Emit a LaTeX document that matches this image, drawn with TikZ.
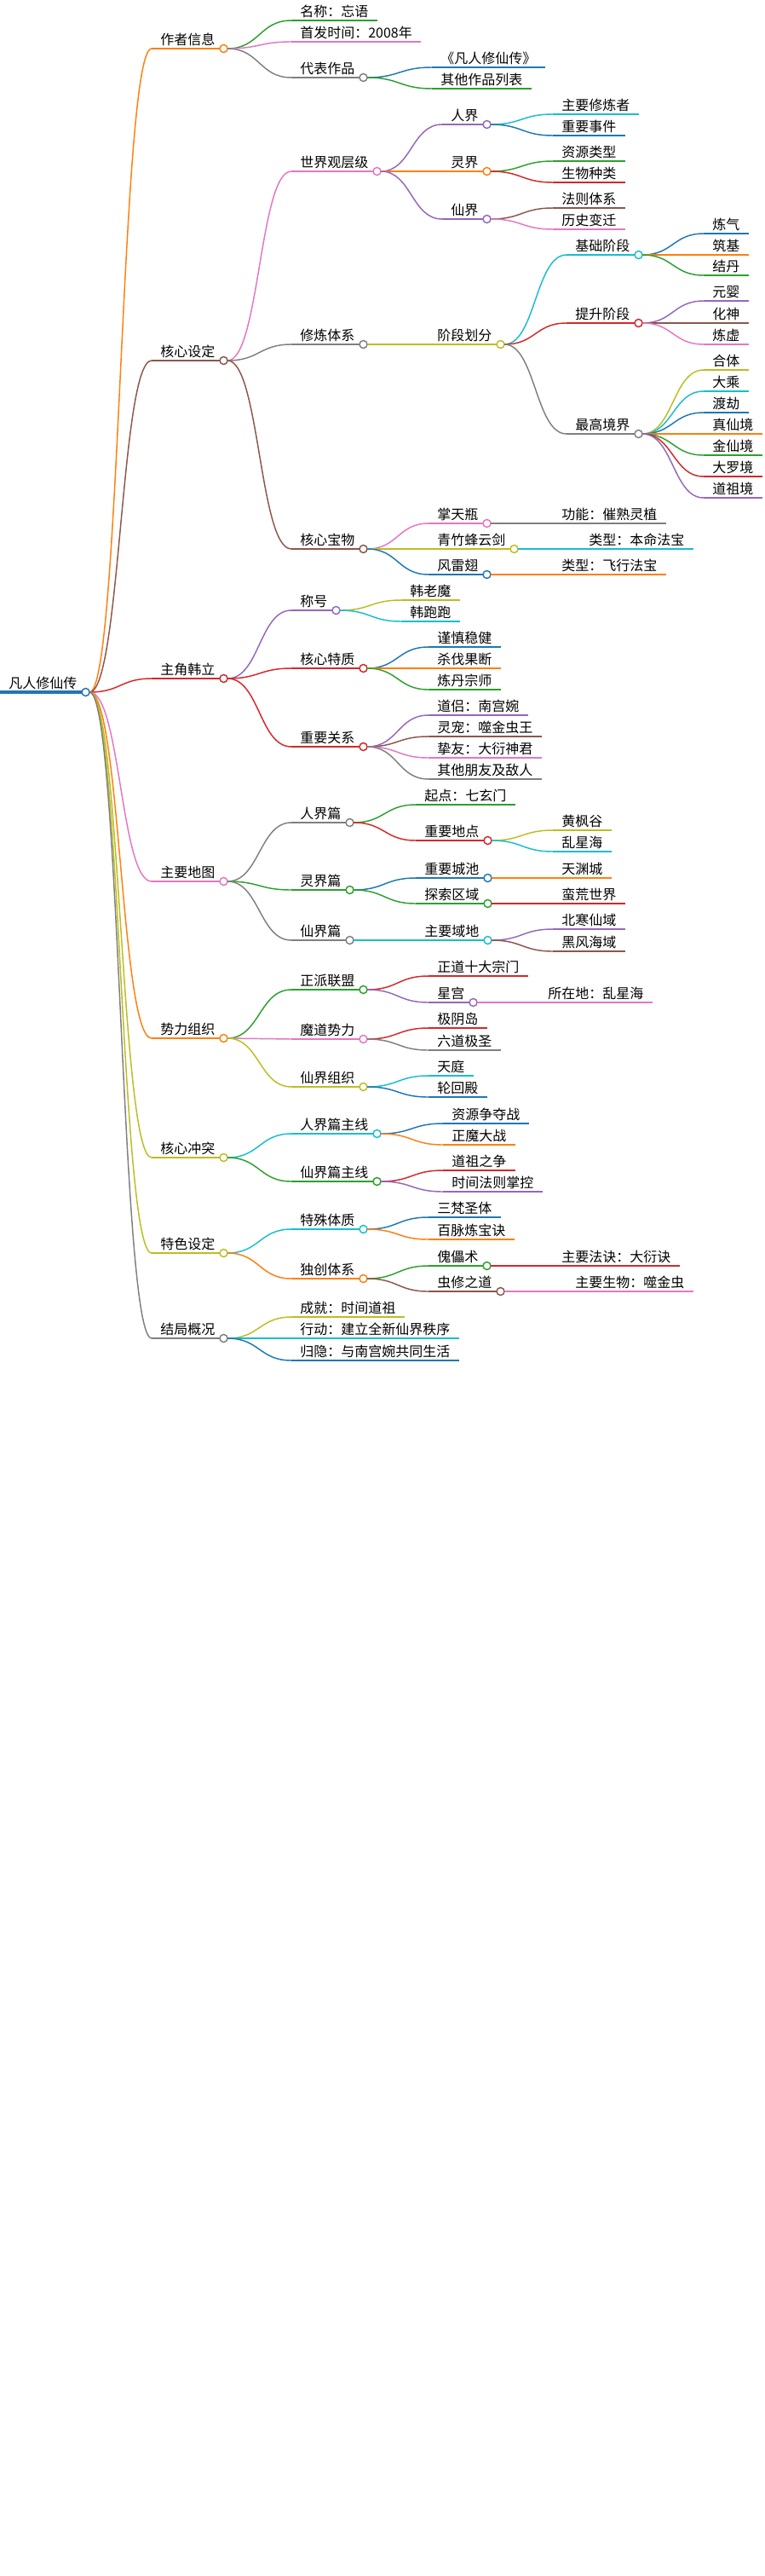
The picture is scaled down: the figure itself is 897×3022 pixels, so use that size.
\documentclass[tikz,border=0pt]{standalone}
\usepackage{fontspec}
\newfontfamily\cjk{Noto Sans CJK SC}
\usetikzlibrary{calc}
\definecolor{mblue}{HTML}{1F77B4}
\definecolor{morange}{HTML}{FF7F0E}
\definecolor{mgreen}{HTML}{2CA02C}
\definecolor{mred}{HTML}{D62728}
\definecolor{mpurple}{HTML}{9467BD}
\definecolor{mbrown}{HTML}{8C564B}
\definecolor{mpink}{HTML}{E377C2}
\definecolor{mgray}{HTML}{7F7F7F}
\definecolor{molive}{HTML}{BCBD22}
\definecolor{mcyan}{HTML}{17BECF}
\tikzset{
  mm/.style={anchor=south west,inner xsep=7.5pt,inner ysep=2pt,
    font=\cjk\fontsize{12}{14}\selectfont},
  link/.style={line width=1.1pt}
}
% leaf: name, parent, colour, x, y, text
\newcommand{\lf}[6]{
\node[mm] (#1) at (#4,#5) {#6};
\draw[#3,link] (#1.south west) -- (#1.south east);
\draw[#3,link] let \p1=($(#2.south east)+(3.4pt,0)$), \p2=(#1.south west) in
  (\p1) .. controls (\x1/2+\x2/2,\y1) and (\x1/2+\x2/2,\y2) .. (\p2);}
% branch: same, with a circle at its end
\newcommand{\br}[6]{
\lf{#1}{#2}{#3}{#4}{#5}{#6}
\draw[#3,link,fill=white] (#1.south east) circle (3.4pt);}

\begin{document}
\begin{tikzpicture}[x=0.75pt,y=-0.75pt]
\useasboundingbox (0,0) rectangle (897,3022);
\node[mm] (root) at (0,812) {凡人修仙传};
\draw[mblue,line width=2.4pt] (root.south west) -- (root.south east);

% 作者信息
\br{auth}{root}{morange}{178}{57}{作者信息}
\lf{auth-a}{auth}{mgreen}{342}{24}{名称：忘语}
\lf{auth-b}{auth}{mpink}{342}{49}{首发时间：2008年}
\br{auth-c}{auth}{mgray}{342}{91}{代表作品}
\lf{auth-c1}{auth-c}{mblue}{507}{79}{《凡人修仙传》}
\lf{auth-c2}{auth-c}{mgreen}{507}{104}{其他作品列表}

% 核心设定
\br{core}{root}{mbrown}{178}{423}{核心设定}
\br{world}{core}{mpink}{342}{201}{世界观层级}
\br{w-ren}{world}{mpurple}{519}{146}{人界}
\lf{w-ren1}{w-ren}{mcyan}{649}{134}{主要修炼者}
\lf{w-ren2}{w-ren}{mblue}{649}{159}{重要事件}
\br{w-ling}{world}{morange}{519}{201}{灵界}
\lf{w-ling1}{w-ling}{mgreen}{649}{189}{资源类型}
\lf{w-ling2}{w-ling}{mred}{649}{214}{生物种类}
\br{w-xian}{world}{mpurple}{519}{257}{仙界}
\lf{w-xian1}{w-xian}{mbrown}{649}{244}{法则体系}
\lf{w-xian2}{w-xian}{mpink}{649}{269}{历史变迁}
\br{cult}{core}{mgray}{342}{404}{修炼体系}
\br{stage}{cult}{molive}{503}{404}{阶段划分}
\br{st-a}{stage}{mcyan}{665}{299}{基础阶段}
\lf{st-a1}{st-a}{mblue}{826}{274}{炼气}
\lf{st-a2}{st-a}{morange}{826}{299}{筑基}
\lf{st-a3}{st-a}{mgreen}{826}{323}{结丹}
\br{st-b}{stage}{mred}{665}{379}{提升阶段}
\lf{st-b1}{st-b}{mpurple}{826}{353}{元婴}
\lf{st-b2}{st-b}{mbrown}{826}{379}{化神}
\lf{st-b3}{st-b}{mpink}{826}{404}{炼虚}
\br{st-c}{stage}{mgray}{665}{509}{最高境界}
\lf{st-c1}{st-c}{molive}{826}{434}{合体}
\lf{st-c2}{st-c}{mcyan}{826}{459}{大乘}
\lf{st-c3}{st-c}{mblue}{826}{484}{渡劫}
\lf{st-c4}{st-c}{morange}{826}{509}{真仙境}
\lf{st-c5}{st-c}{mgreen}{826}{534}{金仙境}
\lf{st-c6}{st-c}{mred}{826}{559}{大罗境}
\lf{st-c7}{st-c}{mpurple}{826}{584}{道祖境}
\br{treas}{core}{mbrown}{342}{644}{核心宝物}
\br{tr-a}{treas}{mpink}{503}{614}{掌天瓶}
\lf{tr-a1}{tr-a}{mgray}{649}{614}{功能：催熟灵植}
\br{tr-b}{treas}{molive}{503}{644}{青竹蜂云剑}
\lf{tr-b1}{tr-b}{mcyan}{681}{644}{类型：本命法宝}
\br{tr-c}{treas}{mblue}{503}{674}{风雷翅}
\lf{tr-c1}{tr-c}{morange}{649}{674}{类型：飞行法宝}

% 主角韩立
\br{hero}{root}{mred}{178}{796}{主角韩立}
\br{title}{hero}{mpurple}{342}{716}{称号}
\lf{title1}{title}{molive}{471}{704}{韩老魔}
\lf{title2}{title}{mcyan}{471}{729}{韩跑跑}
\br{trait}{hero}{mred}{342}{784}{核心特质}
\lf{trait1}{trait}{mblue}{503}{759}{谨慎稳健}
\lf{trait2}{trait}{morange}{503}{784}{杀伐果断}
\lf{trait3}{trait}{mgreen}{503}{809}{炼丹宗师}
\br{rel}{hero}{mred}{342}{876}{重要关系}
\lf{rel1}{rel}{mpurple}{503}{839}{道侣：南宫婉}
\lf{rel2}{rel}{mbrown}{503}{864}{灵宠：噬金虫王}
\lf{rel3}{rel}{mpink}{503}{889}{挚友：大衍神君}
\lf{rel4}{rel}{mgray}{503}{914}{其他朋友及敌人}

% 主要地图
\br{map}{root}{mpink}{178}{1034}{主要地图}
\br{m-ren}{map}{mgray}{342}{965}{人界篇}
\lf{m-ren1}{m-ren}{mgreen}{488}{944}{起点：七玄门}
\br{m-ren2}{m-ren}{mred}{488}{986}{重要地点}
\lf{m-ren21}{m-ren2}{molive}{649}{974}{黄枫谷}
\lf{m-ren22}{m-ren2}{mcyan}{649}{999}{乱星海}
\br{m-ling}{map}{mgreen}{342}{1044}{灵界篇}
\br{m-ling1}{m-ling}{mblue}{488}{1030}{重要城池}
\lf{m-ling11}{m-ling1}{morange}{649}{1030}{天渊城}
\br{m-ling2}{m-ling}{mgreen}{488}{1060}{探索区域}
\lf{m-ling21}{m-ling2}{mred}{649}{1060}{蛮荒世界}
\br{m-xian}{map}{mgray}{342}{1103}{仙界篇}
\br{m-xian1}{m-xian}{mcyan}{488}{1103}{主要域地}
\lf{m-xian11}{m-xian1}{mpurple}{649}{1090}{北寒仙域}
\lf{m-xian12}{m-xian1}{mbrown}{649}{1116}{黑风海域}

% 势力组织
\br{force}{root}{morange}{178}{1218}{势力组织}
\br{f-zh}{force}{mgreen}{342}{1161}{正派联盟}
\lf{f-zh1}{f-zh}{mred}{503}{1145}{正道十大宗门}
\br{f-zh2}{f-zh}{mpurple}{503}{1176}{星宫}
\lf{f-zh21}{f-zh2}{mpink}{633}{1176}{所在地：乱星海}
\br{f-mo}{force}{mpink}{342}{1219}{魔道势力}
\lf{f-mo1}{f-mo}{mred}{503}{1206}{极阴岛}
\lf{f-mo2}{f-mo}{mgray}{503}{1232}{六道极圣}
\br{f-xian}{force}{molive}{342}{1275}{仙界组织}
\lf{f-xian1}{f-xian}{mcyan}{503}{1262}{天庭}
\lf{f-xian2}{f-xian}{mblue}{503}{1287}{轮回殿}

% 核心冲突
\br{conf}{root}{molive}{178}{1358}{核心冲突}
\br{c-ren}{conf}{mcyan}{342}{1330}{人界篇主线}
\lf{c-ren1}{c-ren}{mblue}{520}{1318}{资源争夺战}
\lf{c-ren2}{c-ren}{morange}{520}{1343}{正魔大战}
\br{c-xian}{conf}{mgreen}{342}{1386}{仙界篇主线}
\lf{c-xian1}{c-xian}{mred}{520}{1373}{道祖之争}
\lf{c-xian2}{c-xian}{mpurple}{520}{1398}{时间法则掌控}

% 特色设定
\br{feat}{root}{molive}{178}{1470}{特色设定}
\br{fe-a}{feat}{mcyan}{342}{1442}{特殊体质}
\lf{fe-a1}{fe-a}{mblue}{503}{1428}{三梵圣体}
\lf{fe-a2}{fe-a}{morange}{503}{1454}{百脉炼宝诀}
\br{fe-b}{feat}{morange}{342}{1500}{独创体系}
\br{fe-b1}{fe-b}{mgreen}{503}{1485}{傀儡术}
\lf{fe-b11}{fe-b1}{mred}{649}{1485}{主要法诀：大衍诀}
\br{fe-b2}{fe-b}{mbrown}{503}{1515}{虫修之道}
\lf{fe-b21}{fe-b2}{mpink}{665}{1515}{主要生物：噬金虫}

% 结局概况
\br{end}{root}{mgray}{178}{1570}{结局概况}
\lf{end1}{end}{molive}{342}{1545}{成就：时间道祖}
\lf{end2}{end}{mcyan}{342}{1570}{行动：建立全新仙界秩序}
\lf{end3}{end}{mblue}{342}{1596}{归隐：与南宫婉共同生活}

\draw[mblue,line width=1.1pt,fill=white] (root.south east) circle (3.4pt);
\end{tikzpicture}
\end{document}
